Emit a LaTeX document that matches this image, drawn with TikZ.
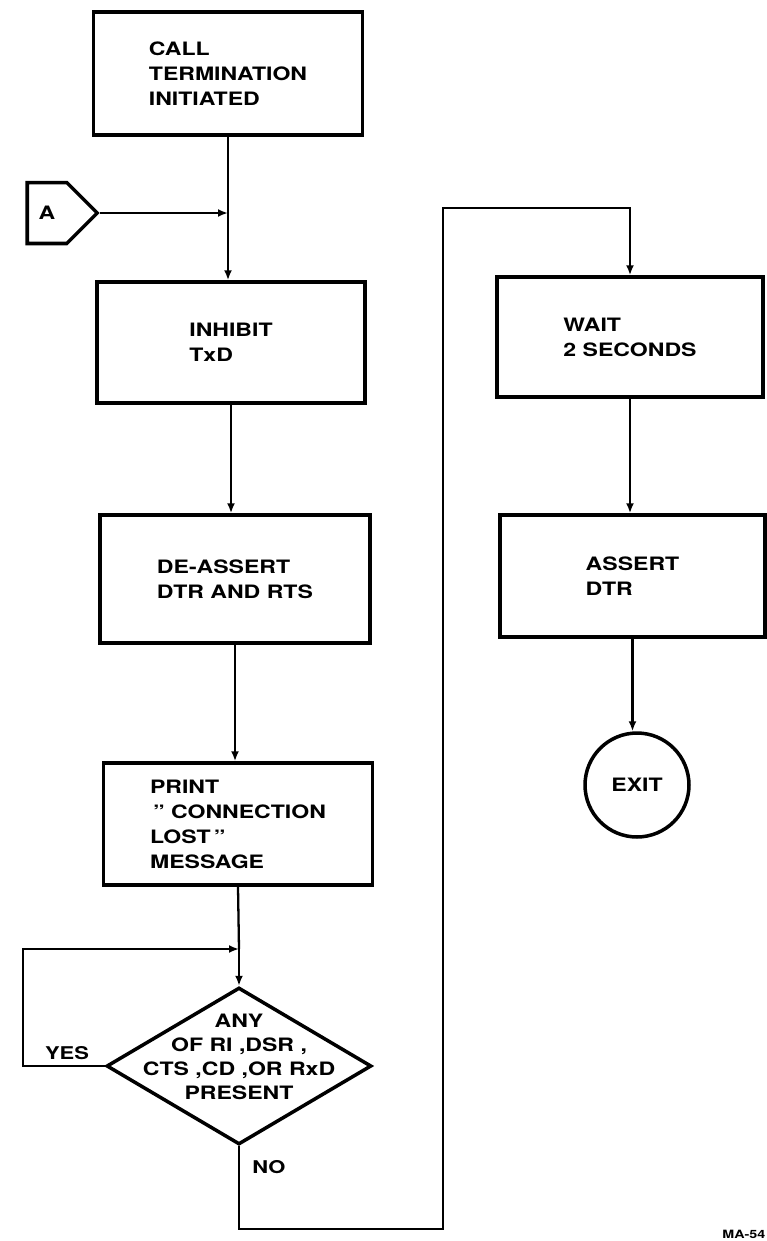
\documentclass[tikz,border=0pt]{standalone}
\usepackage{fontspec}
\setmainfont{TeX Gyre Heros}[FakeStretch=1.25]
\usetikzlibrary{positioning,arrows.meta,calc,shapes.geometric,shapes.symbols}
\tikzset{
  flowtext/.style={font=\bfseries\fontsize{10.5}{14.2}\selectfont},
  box/.style={draw, line width=2pt, flowtext, align=left, inner sep=0pt},
  decision/.style={draw, diamond, line width=2pt, inner sep=0pt},
  term/.style={draw, circle, line width=2pt, flowtext, inner sep=0pt},
  offpage/.style={draw, signal, signal to=east, line width=2pt, flowtext, inner sep=0pt},
  flow/.style={line width=1.3pt, -{Latex[length=2mm,width=1.6mm]}},
  link/.style={line width=1.3pt},
  tag/.style={font=\bfseries\fontsize{10}{12}\selectfont, inner sep=0pt}
}
\begin{document}
\begin{tikzpicture}[x=0.02cm,y=-0.02cm]
\useasboundingbox (0,0) rectangle (767,1241);
\node[box, minimum width=5.38cm, minimum height=2.46cm] (call) at (228,73.5) {CALL\\TERMINATION\\INITIATED};
\node[box, minimum width=5.36cm, minimum height=2.42cm] (inhibit) at (231,342.5) {INHIBIT\\TxD};
\node[box, minimum width=5.4cm, minimum height=2.56cm] (deassert) at (235,579) {DE-ASSERT\\DTR AND RTS};
\node[box, minimum width=5.38cm, minimum height=2.44cm] (print) at (238,824) {PRINT\\\,\textquotedblright\ CONNECTION\\LOST\,\textquotedblright\\MESSAGE};
\node[decision, minimum width=5.3cm, minimum height=3.14cm,
  label={[flowtext, align=center, yshift=0.18cm, font=\bfseries\fontsize{10.5}{13.6}\selectfont]center:{ANY\\OF RI ,DSR ,\\CTS ,CD ,OR RxD\\PRESENT}}] (any) at (239,1066) {};
\node[offpage, minimum width=1.4cm, minimum height=1.22cm] (a) at (47,213) {A};
\node[box, minimum width=5.32cm, minimum height=2.4cm] (wait) at (630,337) {WAIT\\2 SECONDS};
\node[box, minimum width=5.3cm, minimum height=2.44cm] (assert) at (632.5,576) {ASSERT\\DTR};
\node[term, minimum size=2.08cm] (exit) at (637,785) {EXIT};
\node[tag, anchor=south] (yes) at (67,1060) {YES};
\node[tag, anchor=north west] (no) at (252,1160) {NO};
\node[font=\bfseries\fontsize{6.5}{7}\selectfont, anchor=west, inner sep=0pt] (fig) at (722,1234) {MA-54};
\coordinate (ja) at (call.south |- a.east);
\coordinate (jy) at (239,949);
\coordinate (under) at (443,1229);
\coordinate (over) at (443,208);
\draw[flow] (call.south) -- (call.south |- inhibit.north);
\draw[flow] (a.east) -- (ja);
\draw[flow] (inhibit.south) -- (inhibit.south |- deassert.north);
\draw[flow] (deassert.south) -- (deassert.south |- print.north);
\draw[link] (print.south) -- (jy);
\draw[flow] (jy) -- (any.north);
\draw[flow] (any.west) -- ++(-82,0) |- (jy);
\draw[flow] (any.south) |- (under) -- (over) -| (wait.north);
\draw[flow] (wait.south) -- (wait.south |- assert.north);
\draw[flow] (assert.south) -- (assert.south |- exit.north);
\end{tikzpicture}
\end{document}
